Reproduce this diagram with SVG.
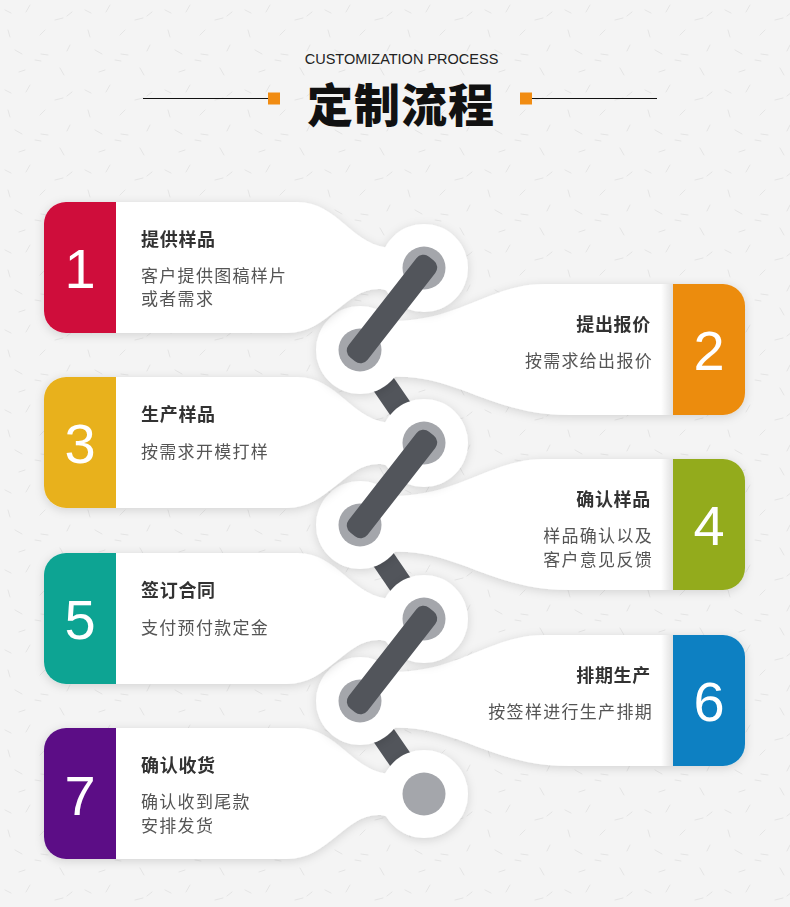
<svg xmlns="http://www.w3.org/2000/svg" width="790" height="907" viewBox="0 0 790 907">
<defs>
<style>
.cn{font-family:"Noto Sans CJK SC","Noto Sans",sans-serif;}
.tt{font-size:18px;font-weight:700;fill:#333;letter-spacing:0.7px;}
.ds{font-size:17px;fill:#555;letter-spacing:1.3px;}
.num{font-family:"Liberation Sans",Arial,sans-serif;font-size:56px;fill:#fff;text-anchor:middle;}
.wh{fill:#fff;}
.dot{fill:#a4a6ab;}
.bar{fill:#52555b;}
.rt{text-anchor:end;}
</style>
<pattern id="tex" width="80" height="80" patternUnits="userSpaceOnUse">
<rect width="80" height="80" fill="#f4f4f4"/>
<g stroke="#e0e0e0" stroke-width="0.8" fill="none" stroke-linecap="round">
<path d="M5,10 l6,3 M30,5 l-4,7 M55,20 l8,-2 M70,45 l-3,6 M15,50 l7,4 M40,35 l5,-5 M25,70 l-6,2 M60,68 l4,7 M48,55 l-7,-1 M8,30 l2,7 M72,12 l-5,4 M35,60 l6,1"/>
</g>
</pattern>
<filter id="sh" x="-10%" y="-20%" width="120%" height="140%">
<feDropShadow dx="0" dy="2" stdDeviation="5" flood-color="#000" flood-opacity="0.14"/>
</filter>
<linearGradient id="edge" x1="0" y1="0" x2="1" y2="0">
<stop offset="0" stop-color="#000" stop-opacity="0"/>
<stop offset="1" stop-color="#000" stop-opacity="0.12"/>
</linearGradient>
</defs>

<rect width="790" height="907" fill="url(#tex)"/>

<g id="header">
<text x="401.5" y="64" font-family="'Liberation Sans',Arial,sans-serif" font-size="14.5" fill="#222" text-anchor="middle">CUSTOMIZATION PROCESS</text>
<line x1="143" y1="98.5" x2="268" y2="98.5" stroke="#111" stroke-width="1.2"/>
<rect x="268" y="92.5" width="12" height="12" fill="#f18c12"/>
<rect x="520" y="92.5" width="12" height="12" fill="#f18c12"/>
<line x1="532" y1="98.5" x2="657" y2="98.5" stroke="#111" stroke-width="1.2"/>
<text class="cn" x="401" y="122" font-size="46" font-weight="900" fill="#111" text-anchor="middle" letter-spacing="1">定制流程</text>
</g>

<g id="connectors-behind">
<rect class="bar" x="336" y="384.5" width="112" height="24" transform="rotate(55.46 392 396.5)"/>
<rect class="bar" x="335" y="560" width="114" height="24" transform="rotate(55.75 392 572)"/>
<rect class="bar" x="336" y="735.5" width="112" height="24" transform="rotate(55.46 392 747.5)"/>
</g>

<g id="step7" filter="url(#sh)">
<path class="wh" d="M66,728 H297 C340,728 352,775 395,774 L424,794 L402,829 C392,817 385,815 378,815 C345,815 328,859 287,859 H66 A22,22 0 0 1 44,837 V750 A22,22 0 0 1 66,728 Z"/>
<circle class="wh" cx="424" cy="794" r="44"/>
<path fill="#5b1186" d="M116,728 H66 A22,22 0 0 0 44,750 V837 A22,22 0 0 0 66,859 H116 Z"/>
<text class="num" x="80" y="815">7</text>
<text class="cn tt" x="141" y="772">确认收货</text>
<text class="cn ds" x="141" y="808">确认收到尾款</text>
<text class="cn ds" x="141" y="832">安排发货</text>
<circle class="dot" cx="424" cy="794" r="21.5"/>
</g>

<g id="step6" filter="url(#sh)">
<path class="wh" d="M700,635 H545 C490,635 460,672 392,672 L360,701 L390,728 C455,724 490,766 570,766 H700 Z"/>
<circle class="wh" cx="360" cy="701" r="44"/>
<rect x="661" y="635" width="12" height="131" fill="url(#edge)"/>
<path fill="#0a80c2" d="M673,635 H723 A22,22 0 0 1 745,657 V744 A22,22 0 0 1 723,766 H673 Z"/>
<text class="num" x="709" y="721">6</text>
<text class="cn tt rt" x="651" y="682">排期生产</text>
<text class="cn ds rt" x="653" y="718">按签样进行生产排期</text>
<circle class="dot" cx="360" cy="701" r="21.5"/>
</g>

<g id="step5" filter="url(#sh)">
<path class="wh" d="M66,553 H297 C340,553 352,600 395,599 L424,619 L402,654 C392,642 385,640 378,640 C345,640 328,684 287,684 H66 A22,22 0 0 1 44,662 V575 A22,22 0 0 1 66,553 Z"/>
<circle class="wh" cx="424" cy="619" r="44"/>
<path fill="#0ea493" d="M116,553 H66 A22,22 0 0 0 44,575 V662 A22,22 0 0 0 66,684 H116 Z"/>
<text class="num" x="80" y="639">5</text>
<text class="cn tt" x="141" y="597">签订合同</text>
<text class="cn ds" x="141" y="634">支付预付款定金</text>
<circle class="dot" cx="424" cy="619" r="21.5"/>
</g>

<g id="step4" filter="url(#sh)">
<path class="wh" d="M700,459 H545 C490,459 460,496 392,496 L360,525 L390,552 C455,548 490,590 570,590 H700 Z"/>
<circle class="wh" cx="360" cy="525" r="44"/>
<rect x="661" y="459" width="12" height="131" fill="url(#edge)"/>
<path fill="#93ab1e" d="M673,459 H723 A22,22 0 0 1 745,481 V568 A22,22 0 0 1 723,590 H673 Z"/>
<text class="num" x="709" y="545">4</text>
<text class="cn tt rt" x="651" y="506">确认样品</text>
<text class="cn ds rt" x="653" y="542">样品确认以及</text>
<text class="cn ds rt" x="653" y="566">客户意见反馈</text>
<circle class="dot" cx="360" cy="525" r="21.5"/>
</g>

<g id="step3" filter="url(#sh)">
<path class="wh" d="M66,377 H297 C340,377 352,424 395,423 L424,443 L402,478 C392,466 385,464 378,464 C345,464 328,508 287,508 H66 A22,22 0 0 1 44,486 V399 A22,22 0 0 1 66,377 Z"/>
<circle class="wh" cx="424" cy="443" r="44"/>
<path fill="#e8b11f" d="M116,377 H66 A22,22 0 0 0 44,399 V486 A22,22 0 0 0 66,508 H116 Z"/>
<text class="num" x="80" y="463">3</text>
<text class="cn tt" x="141" y="421">生产样品</text>
<text class="cn ds" x="141" y="458">按需求开模打样</text>
<circle class="dot" cx="424" cy="443" r="21.5"/>
</g>

<g id="step2" filter="url(#sh)">
<path class="wh" d="M700,284 H545 C490,284 460,321 392,321 L360,350 L390,377 C455,373 490,415 570,415 H700 Z"/>
<circle class="wh" cx="360" cy="350" r="44"/>
<rect x="661" y="284" width="12" height="131" fill="url(#edge)"/>
<path fill="#ec8c10" d="M673,284 H723 A22,22 0 0 1 745,306 V393 A22,22 0 0 1 723,415 H673 Z"/>
<text class="num" x="709" y="370">2</text>
<text class="cn tt rt" x="651" y="331">提出报价</text>
<text class="cn ds rt" x="653" y="367">按需求给出报价</text>
<circle class="dot" cx="360" cy="350" r="21.5"/>
</g>

<g id="step1" filter="url(#sh)">
<path class="wh" d="M66,202 H297 C340,202 352,249 395,248 L424,268 L402,303 C392,291 385,289 378,289 C345,289 328,333 287,333 H66 A22,22 0 0 1 44,311 V224 A22,22 0 0 1 66,202 Z"/>
<circle class="wh" cx="424" cy="268" r="44"/>
<path fill="#cf0a3a" d="M116,202 H66 A22,22 0 0 0 44,224 V311 A22,22 0 0 0 66,333 H116 Z"/>
<text class="num" x="80" y="288">1</text>
<text class="cn tt" x="141" y="246">提供样品</text>
<text class="cn ds" x="141" y="282">客户提供图稿样片</text>
<text class="cn ds" x="141" y="305">或者需求</text>
<circle class="dot" cx="424" cy="268" r="21.5"/>
</g>

<g id="connectors">
<rect class="bar" x="328" y="297" width="128" height="24" rx="9" transform="rotate(-52.03 392 309)"/>
<rect class="bar" x="328" y="472" width="128" height="24" rx="9" transform="rotate(-52.03 392 484)"/>
<rect class="bar" x="328" y="648" width="128" height="24" rx="9" transform="rotate(-52.03 392 660)"/>
</g>
</svg>
